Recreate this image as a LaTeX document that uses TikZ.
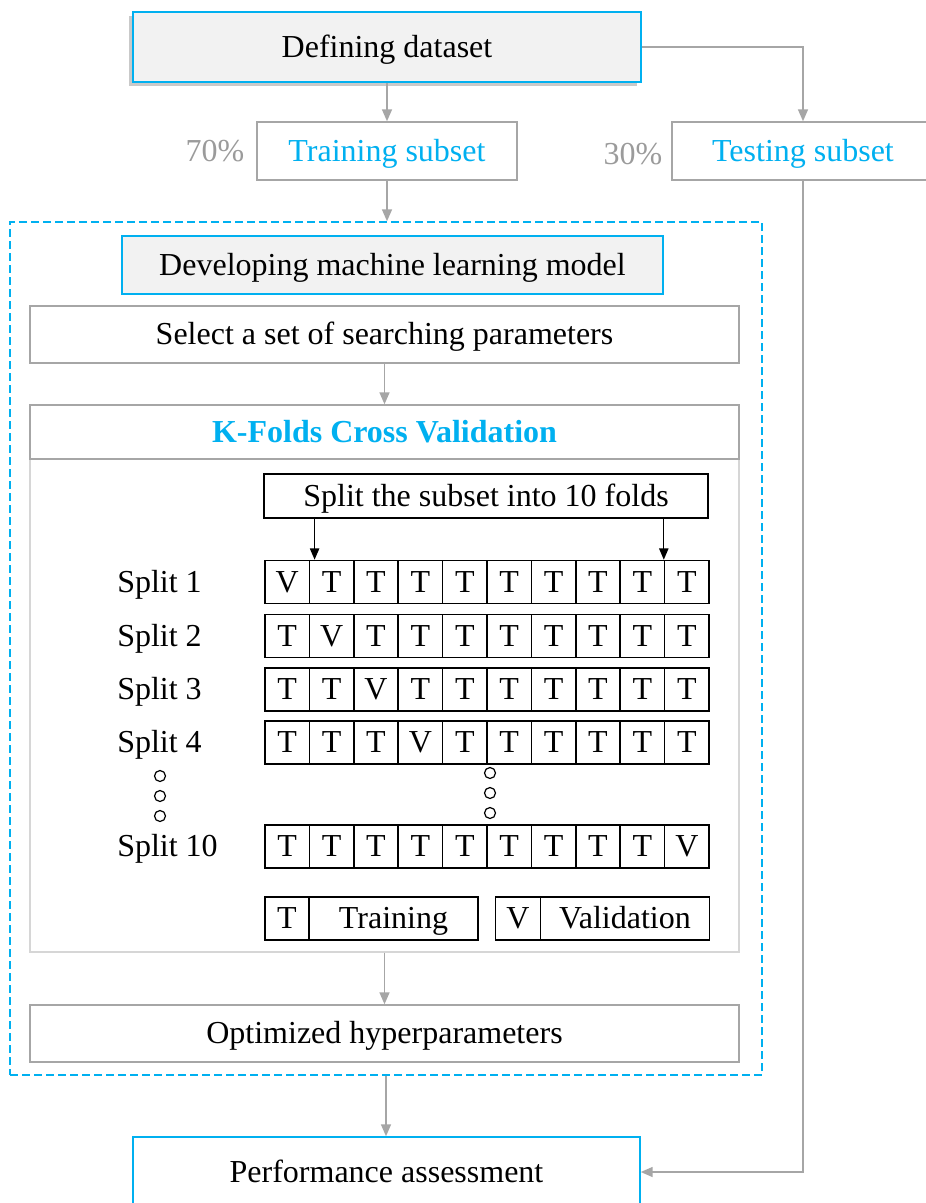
\documentclass[tikz,border=0pt]{standalone}
\usepackage{fontspec}
\setmainfont{Liberation Serif}
\usetikzlibrary{arrows.meta,shadows,calc}
\definecolor{cyanline}{HTML}{00B0F0}
\definecolor{boxgray}{HTML}{A6A6A6}
\definecolor{paleback}{HTML}{F2F2F2}
\definecolor{pctgray}{HTML}{9B9B9B}
\definecolor{framegray}{HTML}{D6D6D6}

\begin{document}
\begin{tikzpicture}[x=0.75pt,y=-0.75pt,
  every node/.style={font=\fontsize{24}{28}\selectfont, inner sep=0pt,
                     text height=19pt, text depth=3.5pt},
  box/.style={draw=boxgray, line width=1.1pt, fill=white},
  cyanbox/.style={draw=cyanline, line width=1.1pt},
  fold/.style={draw=black, line width=1.2pt, minimum width=33.3pt, minimum height=32.25pt},
  legbox/.style={draw=black, line width=1.2pt, minimum height=32.25pt},
  garrow/.style={draw=boxgray, line width=1.2pt, -{Triangle[width=7.5pt,length=9pt]}},
  karrow/.style={draw=black, line width=1pt, -{Triangle[width=7pt,length=8.5pt]}},
  dot/.style={circle, draw=black, line width=0.9pt, minimum size=8.25pt,
              text height=0pt, text depth=0pt},
  blank/.style={text height=0pt, text depth=0pt}
]
\useasboundingbox (0,0) rectangle (925,1203);

% dataset and its two subsets
\node[cyanbox, fill=paleback,
      drop shadow={shadow xshift=-3pt, shadow yshift=-3pt, opacity=0.3, fill=black!70},
      minimum width=381pt, minimum height=52.5pt] (def) at (387,47) {Defining dataset};
\node[box, text=cyanline, minimum width=195pt, minimum height=43.5pt] (train) at (387,151) {Training subset};
\node[box, text=cyanline, minimum width=196.5pt, minimum height=43.5pt] (test) at (803,151) {Testing subset};
\node[text=pctgray] (p70) at (215,151) {70\%};
\node[text=pctgray] (p30) at (633,154) {30\%};

% model development frame
\node[blank, draw=cyanline, line width=1.1pt, dash pattern=on 6pt off 3pt,
      minimum width=564pt, minimum height=639.75pt] (frame) at (386,648.5) {};
\node[draw=cyanline, line width=1.5pt, fill=paleback,
      minimum width=405.75pt, minimum height=43.5pt] (dev) at (392.5,265) {Developing machine learning model};
\node[box, minimum width=531.75pt, minimum height=42.75pt] (sel) at (384.5,334.5) {Select a set of searching parameters};

% cross validation panel
\node[blank, draw=framegray, line width=1.1pt, minimum width=531.75pt, minimum height=410.25pt] (kf) at (384.5,678.5) {};
\node[box, text=cyanline, font=\fontsize{24}{28}\selectfont\bfseries,
      minimum width=531.75pt, minimum height=40.5pt] (kfh) at (384.5,432) {K-Folds Cross Validation};
\node[draw=black, line width=1.1pt, minimum width=333pt, minimum height=33pt] (split) at (486,496) {Split the subset into 10 folds};

\foreach \r/\yc in {1/582, 2/636, 3/689.5, 4/742.5, 10/846.5} {
  \foreach \i in {1,...,10} {
    \pgfmathsetmacro\cx{265+44.4*(\i-0.5)}
    \ifnum\i=\r \def\foldlab{V}\else\def\foldlab{T}\fi
    \node[fold] (c-\r-\i) at (\cx,\yc) {\foldlab};
  }
  \node[anchor=west] (lab-\r) at (117,\yc) {Split \r};
}

% ellipsis dots
\node[dot] (dl1) at (160,776) {};
\node[dot] (dl2) at (160,796) {};
\node[dot] (dl3) at (160,816) {};
\node[dot] (dm1) at (490,773) {};
\node[dot] (dm2) at (490,793) {};
\node[dot] (dm3) at (490,813) {};

% legend
\node[legbox, minimum width=33pt] (legT) at (287,918.5) {T};
\node[legbox, minimum width=126.75pt] (legTr) at (393.5,918.5) {Training};
\node[legbox, minimum width=33.75pt] (legV) at (518,918.5) {V};
\node[legbox, minimum width=126.75pt] (legVa) at (625,918.5) {Validation};

\node[box, minimum width=531.75pt, minimum height=42.75pt] (opt) at (384.5,1033.5) {Optimized hyperparameters};
\node[cyanbox, fill=white, minimum width=380.25pt, minimum height=52.5pt] (perf) at (386.5,1172) {Performance assessment};

% connectors
\draw[garrow] (def.south -| train.north) -- (train.north);
\draw[garrow] (def.east) -| (test.north);
\draw[garrow] (train.south) -- (train.south |- frame.north);
\draw[garrow] (sel.south) -- (kfh.north);
\draw[garrow] (kf.south) -- (opt.north);
\draw[garrow] (frame.south) -- (frame.south |- perf.north);
\draw[garrow] (test.south) |- (perf.east);

\path (c-1-2.north west) ++(6,0) coordinate (a1);
\path (c-1-10.north west) coordinate (a2);
\draw[karrow] (split.south -| a1) -- (a1);
\draw[karrow] (split.south -| a2) -- (a2);
\end{tikzpicture}
\end{document}
